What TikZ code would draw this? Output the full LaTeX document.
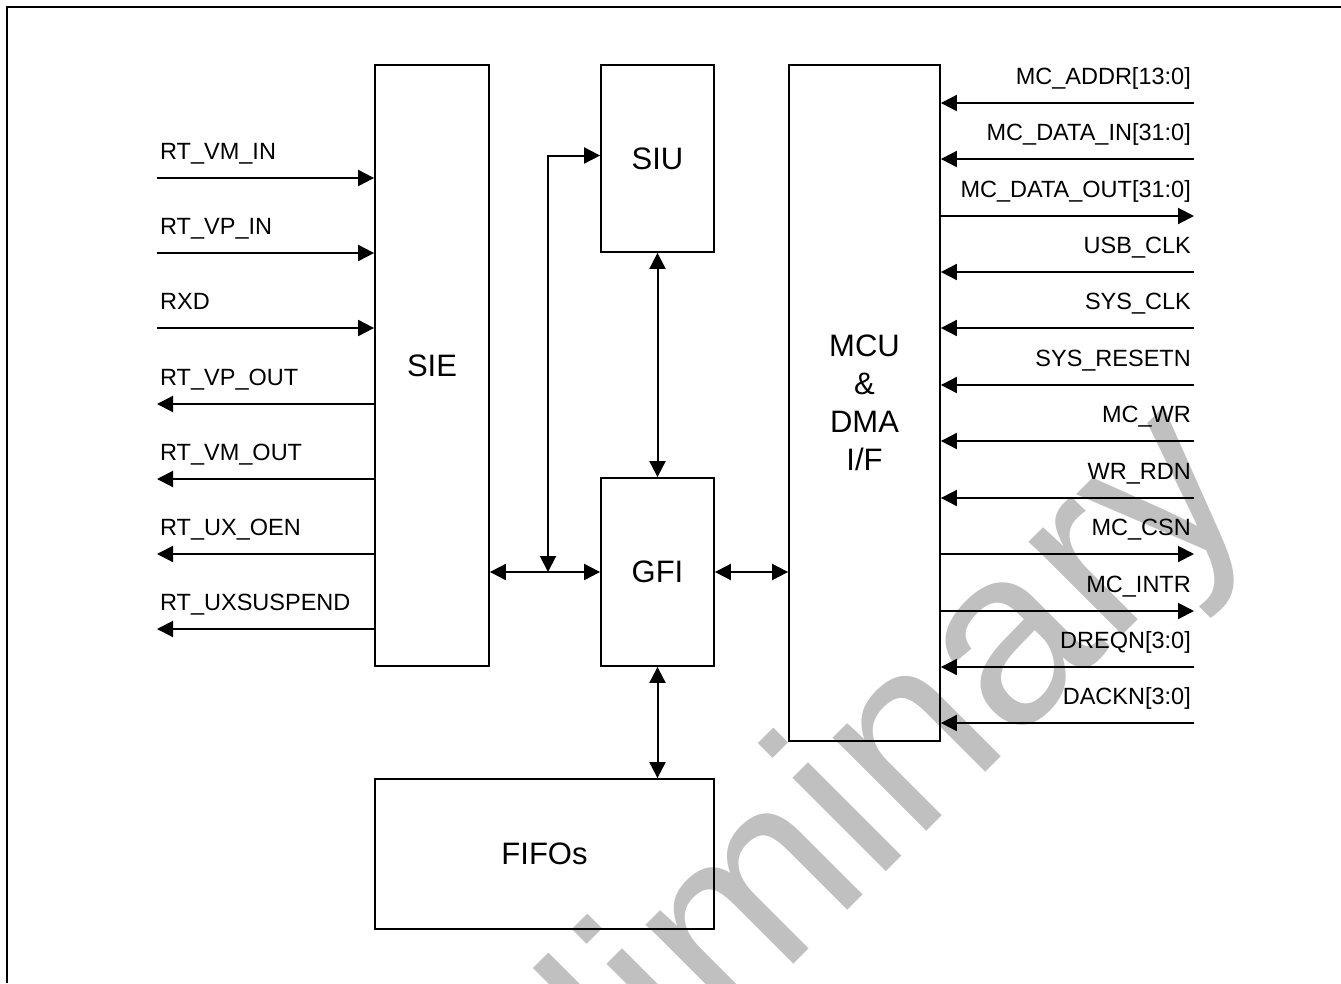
\documentclass[tikz,border=0pt]{standalone}
\usepackage{fontspec}
\setmainfont{Liberation Sans}
\usetikzlibrary{arrows.meta,calc}
\definecolor{wm}{RGB}{192,192,192}
\begin{document}
\begin{tikzpicture}[x=1pt,y=-1pt,
  blk/.style={draw, line width=1.8pt, inner sep=0pt, align=center,
    font=\fontsize{31}{38.2}\selectfont},
  lbl/.style={inner sep=0pt, font=\fontsize{23.5}{28}\selectfont},
  sig/.style={line width=2pt, -{Triangle[length=16pt,width=16pt]}},
  bi/.style={line width=2pt, {Triangle[length=16pt,width=16pt]}-{Triangle[length=16pt,width=16pt]}},
  frame/.style={line width=2pt}]
\useasboundingbox (0,0) rectangle (1341,983);
% watermark
\begin{scope}
\clip (0,0) rectangle (1341,983);
\node[rotate=45, anchor=base west, inner sep=0pt, text=wm,
  font=\fontsize{250}{300}\selectfont] (wmk) at (374,1384) {Preliminary};
\end{scope}
% frame
\draw[frame] (7,983) -- (7,7) -- (1341,7);
% blocks
\node[blk, minimum width=114pt, minimum height=601pt] (sie) at (432,365.5) {SIE};
\node[blk, minimum width=113pt, minimum height=187pt] (siu) at (657.5,158.5) {SIU};
\node[blk, minimum width=113pt, minimum height=188pt] (gfi) at (657.5,572) {GFI};
\node[blk, minimum width=151pt, minimum height=676pt] (mcu) at (864.5,403) {MCU\\\&\\DMA\\I/F};
\node[blk, minimum width=339pt, minimum height=150pt] (fifo) at (544.5,854) {FIFOs};
% left inputs
\foreach \y/\t [count=\i] in {178/{RT\_VM\_IN}, 253/{RT\_VP\_IN}, 328/{RXD}} {
  \coordinate (li\i) at (157,\y);
  \draw[sig] (li\i) -- (li\i -| sie.west);
  \node[lbl, anchor=base west] (lil\i) at (160,\y-19) {\t};
}
% left outputs
\foreach \y/\t [count=\i] in {404/{RT\_VP\_OUT}, 479/{RT\_VM\_OUT}, 554/{RT\_UX\_OEN}, 629/{RT\_UXSUSPEND}} {
  \coordinate (lo\i) at (157,\y);
  \draw[sig] (lo\i -| sie.west) -- (lo\i);
  \node[lbl, anchor=base west] (lol\i) at (160,\y-19) {\t};
}
% right inputs
\foreach \y/\t [count=\i] in {103/{MC\_ADDR[13:0]}, 159/{MC\_DATA\_IN[31:0]}, 272/{USB\_CLK}, 328/{SYS\_CLK}, 385/{SYS\_RESETN}, 441/{MC\_WR}, 498/{WR\_RDN}, 667/{DREQN[3:0]}, 723/{DACKN[3:0]}} {
  \coordinate (ri\i) at (1194,\y);
  \draw[sig] (ri\i) -- (ri\i -| mcu.east);
  \node[lbl, anchor=base east] (ril\i) at (1191,\y-18.5) {\t};
}
% right outputs
\foreach \y/\t [count=\i] in {216/{MC\_DATA\_OUT[31:0]}, 554/{MC\_CSN}, 611/{MC\_INTR}} {
  \coordinate (ro\i) at (1194,\y);
  \draw[sig] (ro\i -| mcu.east) -- (ro\i);
  \node[lbl, anchor=base east] (rol\i) at (1191,\y-18.5) {\t};
}
% internal connections
\coordinate (j) at (548,572);
\coordinate (jt) at (548,155.5);
\draw[bi] (sie.east |- gfi.west) -- (gfi.west);
\draw[bi] (j) -- (jt) -- (jt -| siu.west);
\draw[bi] (siu.south) -- (gfi.north);
\draw[bi] (gfi.east) -- (gfi.east -| mcu.west);
\draw[bi] (gfi.south) -- (gfi.south |- fifo.north);
\end{tikzpicture}
\end{document}
